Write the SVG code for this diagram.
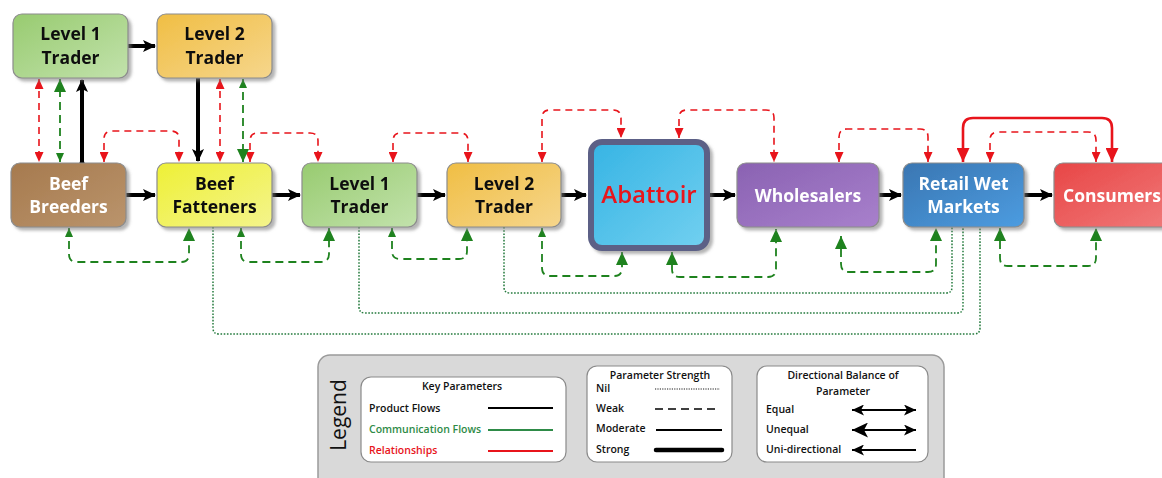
<svg xmlns="http://www.w3.org/2000/svg" width="1162" height="478" viewBox="0 0 1162 478">
<style>
.nt{font-family:"Open Sans","Noto Sans",sans-serif;font-weight:700;font-size:17.5px;text-anchor:middle}
.box{stroke:#8c8c8c;stroke-width:1.2}
.blk{fill:none;stroke:#000;stroke-width:4}
.rd{fill:none;stroke:#e8141b;stroke-width:1.6;stroke-dasharray:7 5}
.rs{fill:none;stroke:#e8141b;stroke-width:2.6}
.gd{fill:none;stroke:#1e821e;stroke-width:1.8;stroke-dasharray:8 5}
.dot{fill:none;stroke:#237a3c;stroke-width:1.5;stroke-dasharray:1.6 1.6}
.lt{font-family:"Open Sans","Noto Sans",sans-serif;font-weight:600;font-size:10.5px;fill:#111}
.lbox{fill:#fff;stroke:#8a8a8a;stroke-width:1.2}
</style>
<defs>
<filter id="sh" x="-10%" y="-10%" width="130%" height="130%"><feDropShadow dx="3" dy="3" stdDeviation="1.5" flood-color="#777" flood-opacity="0.55"/></filter>
<linearGradient id="gBr" x1="0" y1="0" x2="1" y2="1"><stop offset="0" stop-color="#a67a4e"/><stop offset="1" stop-color="#ba946c"/></linearGradient>
<linearGradient id="gFa" x1="0" y1="0" x2="1" y2="1"><stop offset="0" stop-color="#eef036"/><stop offset="1" stop-color="#f4f48c"/></linearGradient>
<linearGradient id="gL1" x1="0" y1="0" x2="1" y2="1"><stop offset="0" stop-color="#98cb70"/><stop offset="1" stop-color="#c2e2ac"/></linearGradient>
<linearGradient id="gL2" x1="0" y1="0" x2="1" y2="1"><stop offset="0" stop-color="#f0be44"/><stop offset="1" stop-color="#f6d68c"/></linearGradient>
<linearGradient id="gAb" x1="0" y1="0" x2="1" y2="1"><stop offset="0" stop-color="#36b4e4"/><stop offset="1" stop-color="#72d0f0"/></linearGradient>
<linearGradient id="gWh" x1="0" y1="0" x2="1" y2="1"><stop offset="0" stop-color="#8a62b2"/><stop offset="1" stop-color="#a880cc"/></linearGradient>
<linearGradient id="gRe" x1="0" y1="0" x2="1" y2="1"><stop offset="0" stop-color="#3a76b2"/><stop offset="1" stop-color="#4c9ce0"/></linearGradient>
<linearGradient id="gCo" x1="0" y1="0" x2="1" y2="1"><stop offset="0" stop-color="#e84646"/><stop offset="1" stop-color="#f07a7a"/></linearGradient>
<marker id="mB" viewBox="0 0 13 12" refX="12" refY="6" markerWidth="13" markerHeight="12" markerUnits="userSpaceOnUse" orient="auto-start-reverse"><path d="M0,0 L13,6 L0,12 L3,6 z" fill="#000"/></marker>
<marker id="mR" viewBox="0 0 10 9" refX="10" refY="4.5" markerWidth="10" markerHeight="9" markerUnits="userSpaceOnUse" orient="auto-start-reverse"><path d="M0,0 L10,4.5 L0,9 z" fill="#e8141b"/></marker>
<marker id="mRL" viewBox="0 0 14 13" refX="14" refY="6.5" markerWidth="14" markerHeight="13" markerUnits="userSpaceOnUse" orient="auto-start-reverse"><path d="M0,0 L14,6.5 L0,13 z" fill="#e8141b"/></marker>
<marker id="mGS" viewBox="0 0 9 8" refX="9" refY="4" markerWidth="9" markerHeight="8" markerUnits="userSpaceOnUse" orient="auto-start-reverse"><path d="M0,0 L9,4 L0,8 z" fill="#1e821e"/></marker>
<marker id="mGL" viewBox="0 0 13 12" refX="13" refY="6" markerWidth="13" markerHeight="12" markerUnits="userSpaceOnUse" orient="auto-start-reverse"><path d="M0,0 L13,6 L0,12 z" fill="#1e821e"/></marker>
<marker id="mLS" viewBox="0 0 12 11" refX="12" refY="5.5" markerWidth="12" markerHeight="11" markerUnits="userSpaceOnUse" orient="auto-start-reverse"><path d="M0,0 L12,5.5 L0,11 L3,5.5 z" fill="#000"/></marker>
<marker id="mLL" viewBox="0 0 16 15" refX="16" refY="7.5" markerWidth="16" markerHeight="15" markerUnits="userSpaceOnUse" orient="auto-start-reverse"><path d="M0,0 L16,7.5 L0,15 L4,7.5 z" fill="#000"/></marker>
</defs>
<rect width="1162" height="478" fill="#fff"/>

<g id="connectors">
<path class="blk" d="M128,46 H155" marker-end="url(#mB)"/>
<path class="blk" d="M82,163 V80" marker-end="url(#mB)"/>
<circle cx="82" cy="163" r="2.5" fill="#000"/>
<path class="blk" d="M198,78 V161" marker-end="url(#mB)"/>
<path class="blk" d="M126,195 H155" marker-end="url(#mB)"/>
<path class="blk" d="M272,195 H300" marker-end="url(#mB)"/>
<path class="blk" d="M417,195 H445" marker-end="url(#mB)"/>
<path class="blk" d="M561,195 H586" marker-end="url(#mB)"/>
<path class="blk" d="M710,195 H735" marker-end="url(#mB)"/>
<path class="blk" d="M879,195 H901" marker-end="url(#mB)"/>
<path class="blk" d="M1024,195 H1052" marker-end="url(#mB)"/>
<path class="rd" d="M39,79 V162" marker-start="url(#mR)" marker-end="url(#mR)"/>
<path class="rd" d="M220,79 V162" marker-start="url(#mR)" marker-end="url(#mR)"/>
<path class="rd" d="M104,162 V139 Q104,131 112,131 H171 Q179,131 179,139 V162" marker-start="url(#mR)" marker-end="url(#mR)"/>
<path class="rd" d="M250,162 V141 Q250,133 258,133 H310 Q318,133 318,141 V162" marker-start="url(#mR)" marker-end="url(#mR)"/>
<path class="rd" d="M393,162 V141 Q393,133 401,133 H460 Q468,133 468,141 V162" marker-start="url(#mR)" marker-end="url(#mR)"/>
<path class="rd" d="M542,162 V118 Q542,110 550,110 H613 Q621,110 621,118 V138" marker-start="url(#mR)" marker-end="url(#mR)"/>
<path class="rd" d="M679,138 V118 Q679,110 687,110 H766 Q774,110 774,118 V162" marker-start="url(#mR)" marker-end="url(#mR)"/>
<path class="rd" d="M839,162 V137 Q839,129 847,129 H920 Q928,129 928,137 V162" marker-start="url(#mR)" marker-end="url(#mR)"/>
<path class="rd" d="M990,162 V140 Q990,132 998,132 H1088 Q1096,132 1096,140 V162" marker-start="url(#mR)" marker-end="url(#mR)"/>
<path class="rs" d="M963,162 V128 Q963,118 973,118 H1102 Q1112,118 1112,128 V162" marker-start="url(#mRL)" marker-end="url(#mRL)"/>
<path class="gd" d="M60,162 V79" marker-start="url(#mGS)" marker-end="url(#mGL)"/>
<path class="gd" d="M243,79 V162" marker-start="url(#mGS)" marker-end="url(#mGL)"/>
<path class="gd" d="M69,228 V254 Q69,262 77,262 H181 Q189,262 189,254 V228" marker-start="url(#mGS)" marker-end="url(#mGL)"/>
<path class="gd" d="M241,228 V254 Q241,262 249,262 H321 Q329,262 329,254 V228" marker-start="url(#mGS)" marker-end="url(#mGL)"/>
<path class="gd" d="M392,228 V251 Q392,259 400,259 H459 Q467,259 467,251 V228" marker-start="url(#mGS)" marker-end="url(#mGL)"/>
<path class="gd" d="M542,228 V268 Q542,276 550,276 H614 Q622,276 622,268 V252" marker-start="url(#mGS)" marker-end="url(#mGL)"/>
<path class="gd" d="M672,252 V269 Q672,277 680,277 H768 Q776,277 776,269 V229" marker-start="url(#mGL)" marker-end="url(#mGL)"/>
<path class="gd" d="M841,236 V264 Q841,272 849,272 H928 Q936,272 936,264 V228" marker-start="url(#mGL)" marker-end="url(#mGL)"/>
<path class="gd" d="M1000,228 V258 Q1000,266 1008,266 H1088 Q1096,266 1096,258 V228" marker-start="url(#mGL)" marker-end="url(#mGL)"/>
<path class="dot" d="M504,227 V287 Q504,293 510,293 H946 Q952,293 952,287 V227"/>
<path class="dot" d="M359,227 V307 Q359,313 365,313 H957 Q963,313 963,307 V227"/>
<path class="dot" d="M213,227 V328 Q213,334 219,334 H974 Q980,334 980,328 V227"/>
</g>

<g id="n-l1top" filter="url(#sh)"><rect class="box" x="13" y="14" width="115" height="64" rx="9" fill="url(#gL1)"/>
<text class="nt" x="70.5" y="40" fill="#111">Level 1</text><text class="nt" x="70.5" y="64" fill="#111">Trader</text></g>
<g id="n-l2top" filter="url(#sh)"><rect class="box" x="157" y="14" width="115" height="64" rx="9" fill="url(#gL2)"/>
<text class="nt" x="214.5" y="40" fill="#111">Level 2</text><text class="nt" x="214.5" y="64" fill="#111">Trader</text></g>
<g id="n-breeders" filter="url(#sh)"><rect class="box" x="11" y="163" width="115" height="64" rx="9" fill="url(#gBr)"/>
<text class="nt" x="68.5" y="190" fill="#fff">Beef</text><text class="nt" x="68.5" y="213" fill="#fff">Breeders</text></g>
<g id="n-fatteners" filter="url(#sh)"><rect class="box" x="157" y="163" width="115" height="64" rx="9" fill="url(#gFa)"/>
<text class="nt" x="214.5" y="190" fill="#111">Beef</text><text class="nt" x="214.5" y="213" fill="#111">Fatteners</text></g>
<g id="n-l1" filter="url(#sh)"><rect class="box" x="302" y="163" width="115" height="64" rx="9" fill="url(#gL1)"/>
<text class="nt" x="359.5" y="190" fill="#111">Level 1</text><text class="nt" x="359.5" y="213" fill="#111">Trader</text></g>
<g id="n-l2" filter="url(#sh)"><rect class="box" x="447" y="163" width="114" height="64" rx="9" fill="url(#gL2)"/>
<text class="nt" x="504" y="190" fill="#111">Level 2</text><text class="nt" x="504" y="213" fill="#111">Trader</text></g>
<g id="n-abattoir" filter="url(#sh)"><rect x="591" y="142" width="116" height="106" rx="11" fill="url(#gAb)" stroke="#5c6186" stroke-width="6"/>
<text class="nt" x="649" y="203" fill="#e8141b" style="font-size:24px;font-weight:600">Abattoir</text></g>
<g id="n-wholesalers" filter="url(#sh)"><rect class="box" x="737" y="163" width="142" height="64" rx="9" fill="url(#gWh)"/>
<text class="nt" x="808" y="202" fill="#fff">Wholesalers</text></g>
<g id="n-retail" filter="url(#sh)"><rect class="box" x="903" y="163" width="121" height="64" rx="9" fill="url(#gRe)"/>
<text class="nt" x="963.5" y="190" fill="#fff">Retail Wet</text><text class="nt" x="963.5" y="213" fill="#fff">Markets</text></g>
<g id="n-consumers" filter="url(#sh)"><rect class="box" x="1054" y="163" width="118" height="64" rx="9" fill="url(#gCo)"/>
<text class="nt" x="1112" y="202" fill="#fff">Consumers</text></g>

<g id="legend">
<rect x="318" y="355" width="626" height="140" rx="12" fill="#d9d9d9" stroke="#9a9a9a" stroke-width="1.5"/>
<text transform="translate(346,415) rotate(-90)" text-anchor="middle" style="font-family:'Open Sans','Noto Sans',sans-serif;font-size:21px;font-weight:500" fill="#111">Legend</text>
<rect class="lbox" x="361" y="377" width="205" height="85" rx="10"/>
<text class="lt" x="462" y="390" text-anchor="middle">Key Parameters</text>
<text class="lt" x="369" y="412">Product Flows</text>
<line x1="488" y1="408" x2="553" y2="408" stroke="#000" stroke-width="2.2"/>
<text class="lt" x="369" y="433" style="fill:#2e8b47">Communication Flows</text>
<line x1="488" y1="430" x2="553" y2="430" stroke="#2e8b47" stroke-width="2.2"/>
<text class="lt" x="369" y="454" style="fill:#e8141b">Relationships</text>
<line x1="488" y1="451" x2="553" y2="451" stroke="#e8141b" stroke-width="2.2"/>
<rect class="lbox" x="587" y="366" width="145" height="96" rx="10"/>
<text class="lt" x="660" y="379" text-anchor="middle">Parameter Strength</text>
<text class="lt" x="596" y="392">Nil</text>
<line x1="655" y1="389" x2="720" y2="389" stroke="#000" stroke-width="0.9" stroke-dasharray="1.2 1.2"/>
<text class="lt" x="596" y="412">Weak</text>
<line x1="655" y1="409" x2="720" y2="409" stroke="#000" stroke-width="1.4" stroke-dasharray="8 5"/>
<text class="lt" x="596" y="432">Moderate</text>
<line x1="656" y1="430" x2="722" y2="430" stroke="#000" stroke-width="2"/>
<text class="lt" x="596" y="453">Strong</text>
<line x1="656" y1="450" x2="722" y2="450" stroke="#000" stroke-width="4.5" stroke-linecap="round"/>
<rect class="lbox" x="757" y="366" width="171" height="96" rx="10"/>
<text class="lt" x="843" y="379" text-anchor="middle">Directional Balance of</text>
<text class="lt" x="843" y="395" text-anchor="middle">Parameter</text>
<text class="lt" x="766" y="413">Equal</text>
<path d="M852,410 H916" stroke="#000" stroke-width="2" marker-start="url(#mLS)" marker-end="url(#mLS)"/>
<text class="lt" x="766" y="433">Unequal</text>
<path d="M852,430 H916" stroke="#000" stroke-width="2" marker-start="url(#mLL)" marker-end="url(#mLS)"/>
<text class="lt" x="766" y="453">Uni-directional</text>
<path d="M852,450 H916" stroke="#000" stroke-width="2" marker-start="url(#mLS)"/>
</g>
</svg>
